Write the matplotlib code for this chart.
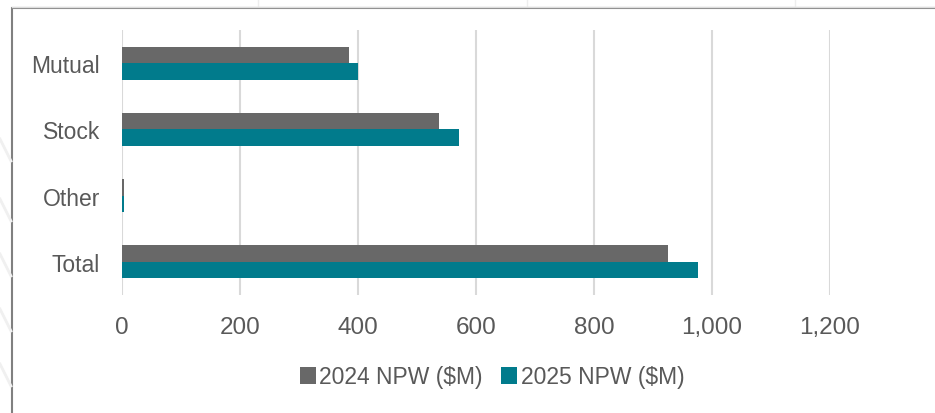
import numpy as np
import matplotlib.pyplot as plt
from matplotlib.patches import Rectangle
from matplotlib.lines import Line2D
from matplotlib.ticker import FuncFormatter

categories = ['Mutual', 'Stock', 'Other', 'Total']
npw_2024 = [385, 537, 3, 925]
npw_2025 = [400, 571, 4, 976]
series_names = ['2024 NPW ($M)', '2025 NPW ($M)']
x_ticks = [0, 200, 400, 600, 800, 1000, 1200]

gray = '#686868'
teal = '#017b8c'
text_col = '#595959'

plt.rcParams['font.family'] = ['Liberation Sans', 'DejaVu Sans']

W, H = 935, 414
fig = plt.figure(figsize=(W / 100, H / 100), dpi=100)
ax = fig.add_axes([122 / W, 1 - 296 / H, (830 - 122) / W, (296 - 31) / H])

y = np.arange(len(categories))
h = 0.25
ax.barh(y - h / 2, npw_2024, height=h, color=gray, label=series_names[0], zorder=3)
ax.barh(y + h / 2, npw_2025, height=h, color=teal, label=series_names[1], zorder=3)

ax.set_xlim(0, 1200)
ax.set_ylim(len(categories) - 0.5, -0.5)
ax.set_yticks(y)
ax.set_yticklabels(categories)
ax.set_xticks(x_ticks)
ax.xaxis.set_major_formatter(FuncFormatter(lambda v, p: f'{int(v):,}'))
ax.grid(axis='x', color='#d9d9d9', linewidth=1.5, zorder=0)
for s in ax.spines.values():
    s.set_visible(False)
ax.tick_params(axis='both', length=0)
ax.tick_params(axis='y', labelsize=16.5, labelcolor=text_col, pad=16)
ax.tick_params(axis='x', labelsize=17.5, labelcolor=text_col, pad=15)

fig.legend(loc='center', bbox_to_anchor=(492 / W, 1 - 378 / H), ncol=2,
           frameon=False, fontsize=16.5, labelcolor=text_col,
           handlelength=0.7, handleheight=0.7, handletextpad=0.15,
           columnspacing=0.8)

# chart frame and faint backdrop lines around it
fig.patches.append(Rectangle((12 / W, -0.1), 1.1, 1 - 9 / H + 0.1,
                             transform=fig.transFigure, fill=False,
                             edgecolor='#808080', linewidth=1.5))
for xp in [258, 527, 795]:
    fig.lines.append(Line2D([xp / W, xp / W], [1 - 7 / H, 1], transform=fig.transFigure,
                            color='#eeeeee', linewidth=1))
fig.lines.append(Line2D([12 / W, 1], [1 - 7.5 / H, 1 - 7.5 / H], transform=fig.transFigure,
                        color='#dddddd', linewidth=1))
for y0 in [140, 200, 255, 310, 365]:
    fig.lines.append(Line2D([0, 11 / W], [1 - y0 / H, 1 - (y0 + 22) / H],
                            transform=fig.transFigure, color='#f0f0f0', linewidth=2))

fig.savefig('out.png', dpi=100)
